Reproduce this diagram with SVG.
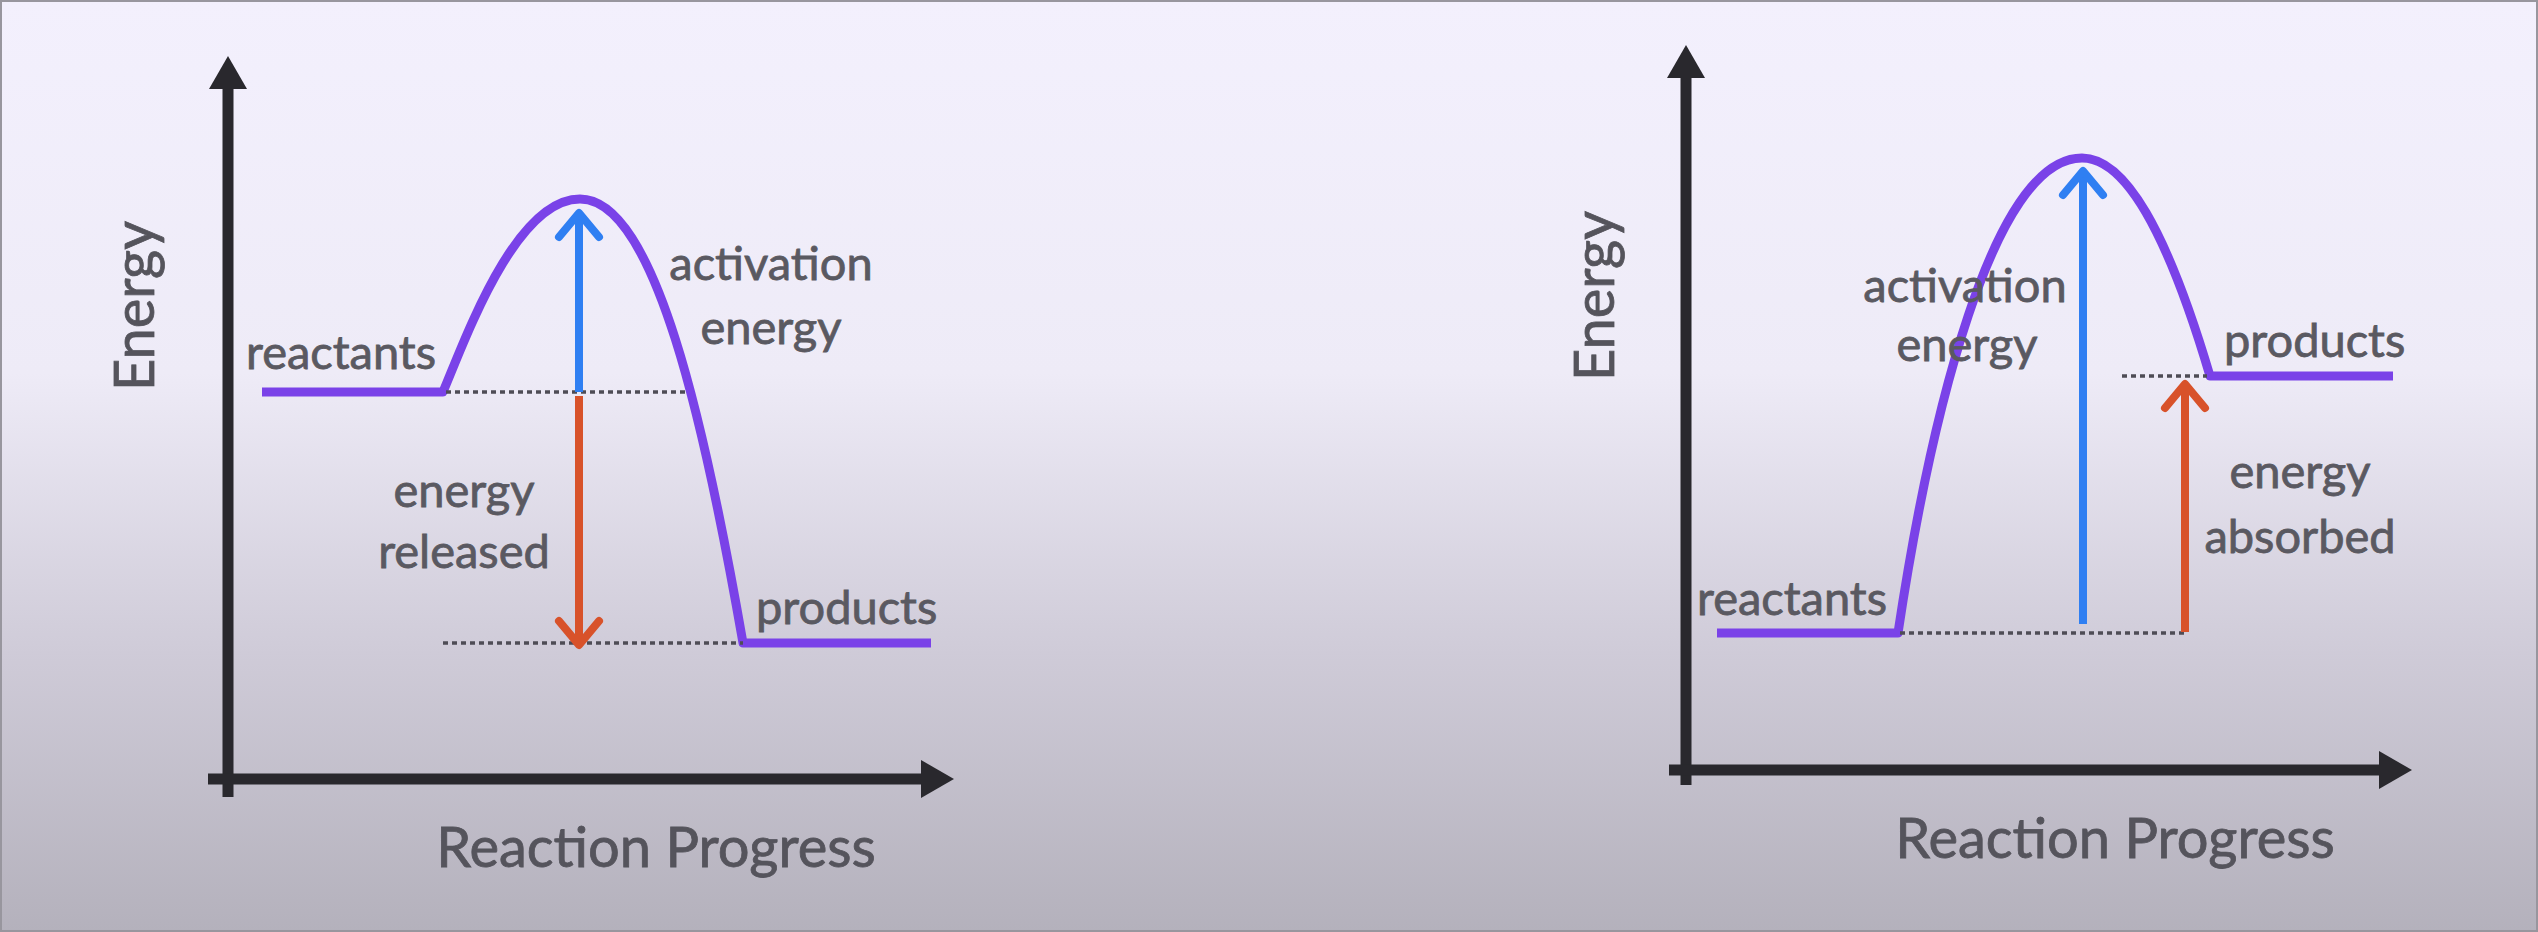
<svg xmlns="http://www.w3.org/2000/svg" width="2538" height="932" viewBox="0 0 2538 932">
<defs>
<linearGradient id="bg" x1="0" y1="0" x2="0" y2="1">
<stop offset="0" stop-color="#f3f0fd"/>
<stop offset="0.4" stop-color="#eeebf7"/>
<stop offset="0.7" stop-color="#cfcbd8"/>
<stop offset="1" stop-color="#b4b1bc"/>
</linearGradient>
<marker id="axisHead" markerUnits="userSpaceOnUse" markerWidth="40" markerHeight="44" viewBox="0 -22 40 44" refX="0" refY="0" orient="auto">
<path d="M0,-19 L33,0 L0,19 Z" fill="#29282d"/>
</marker>
<marker id="blueHead" markerUnits="userSpaceOnUse" markerWidth="40" markerHeight="60" viewBox="-32 -28 40 56" refX="0" refY="0" orient="auto">
<path d="M-24,-20 L0,0 L-24,20" fill="none" stroke="#2f7ff2" stroke-width="8" stroke-linecap="round" stroke-linejoin="round"/>
</marker>
<marker id="redHead" markerUnits="userSpaceOnUse" markerWidth="40" markerHeight="60" viewBox="-32 -28 40 56" refX="0" refY="0" orient="auto">
<path d="M-24,-20 L0,0 L-24,20" fill="none" stroke="#d8522a" stroke-width="8" stroke-linecap="round" stroke-linejoin="round"/>
</marker>
</defs>
<style>
.axis{stroke:#29282d;stroke-width:11;fill:none;marker-end:url(#axisHead)}
.curve{stroke:#7a42e8;stroke-width:9;fill:none;stroke-linejoin:round}
.dot{stroke:#4e4c55;stroke-width:3.5;stroke-dasharray:5 4;fill:none}
.blue{stroke:#2f7ff2;stroke-width:8;fill:none;marker-end:url(#blueHead)}
.red{stroke:#d8522a;stroke-width:8;fill:none;marker-end:url(#redHead)}
.lbl{font-family:Lato,"Liberation Sans",sans-serif;font-size:47px;fill:#5a5961;stroke:#5a5961;stroke-width:0.8}
.ax{font-family:Lato,"Liberation Sans",sans-serif;font-size:56px;fill:#55545c;stroke:#55545c;stroke-width:0.8}
</style>
<rect x="0" y="0" width="2538" height="932" fill="url(#bg)"/>
<rect x="1" y="1" width="2536" height="930" fill="none" stroke="#98969e" stroke-width="2"/>

<g id="left-diagram">
<g id="left-axes">
<line class="axis" x1="228" y1="797" x2="228" y2="89"/>
<line class="axis" x1="208" y1="779" x2="921" y2="779"/>
<text class="ax" transform="translate(154,306) rotate(-90)" text-anchor="middle">Energy</text>
<text class="ax" x="656" y="867" text-anchor="middle">Reaction Progress</text>
</g>
<g id="left-curve">
<path class="curve" d="M262,392 L443,392 C465,340 515,199 580,199 C655,199 705,425 743,643 L931,643"/>
</g>
<g id="left-connectors">
<line class="dot" x1="446" y1="392" x2="689" y2="392"/>
<line class="dot" x1="443" y1="643" x2="743" y2="643"/>
<line class="blue" x1="579" y1="392" x2="579" y2="213"/>
<line class="red" x1="579" y1="396" x2="579" y2="645"/>
</g>
<g id="left-labels">
<text class="lbl" x="246" y="369">reactants</text>
<text class="lbl" x="771" y="280" text-anchor="middle">activation</text>
<text class="lbl" x="771" y="344" text-anchor="middle">energy</text>
<text class="lbl" x="464" y="507" text-anchor="middle">energy</text>
<text class="lbl" x="464" y="568" text-anchor="middle">released</text>
<text class="lbl" x="756" y="624">products</text>
</g>
</g>

<g id="right-diagram">
<g id="right-axes">
<line class="axis" x1="1686" y1="785" x2="1686" y2="78"/>
<line class="axis" x1="1669" y1="770" x2="2379" y2="770"/>
<text class="ax" transform="translate(1614,296) rotate(-90)" text-anchor="middle">Energy</text>
<text class="ax" x="2115" y="858" text-anchor="middle">Reaction Progress</text>
</g>
<g id="right-curve">
<path class="curve" d="M1717,633 L1898,633 C1930,420 1992,158 2082,158 C2125,158 2167,231 2210,376 L2393,376"/>
</g>
<g id="right-connectors">
<line class="dot" x1="1900" y1="633" x2="2188" y2="633"/>
<line class="dot" x1="2122" y1="376" x2="2207" y2="376"/>
<line class="blue" x1="2083" y1="624" x2="2083" y2="171"/>
<line class="red" x1="2185" y1="632" x2="2185" y2="384"/>
</g>
<g id="right-labels">
<text class="lbl" x="1697" y="615">reactants</text>
<text class="lbl" x="1965" y="302" text-anchor="middle">activation</text>
<text class="lbl" x="1967" y="361" text-anchor="middle">energy</text>
<text class="lbl" x="2224" y="357">products</text>
<text class="lbl" x="2300" y="488" text-anchor="middle">energy</text>
<text class="lbl" x="2300" y="553" text-anchor="middle">absorbed</text>
</g>
</g>
</svg>
